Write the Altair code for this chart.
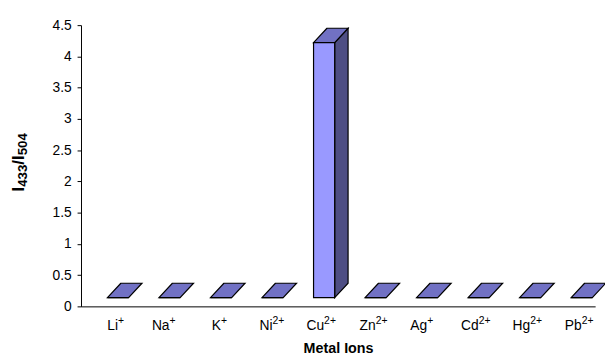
import altair as alt
import pandas as pd

ion_names = ["Li", "Na", "K", "Ni", "Cu", "Zn", "Ag", "Cd", "Hg", "Pb"]
charges = ["+", "+", "+", "2+", "2+", "2+", "+", "2+", "2+", "2+"]
ratio = [0.14, 0.14, 0.14, 0.14, 4.22, 0.14, 0.14, 0.14, 0.14, 0.14]
y_ticks = [0, 0.5, 1, 1.5, 2, 2.5, 3, 3.5, 4, 4.5]
# y-axis title pieces: text, is_subscript
ytitle_parts = ["I", "433", "/I", "504"]
ytitle_sub = [False, True, False, True]

FLOOR = 0.14   # 3D floor level
HW = 0.205     # half bar width (category units)
DX = 0.26      # depth offset x (category units)
DY = 0.23      # depth offset y (value units)

FRONT = "#9999FF"
TOP = "#7171C4"
SIDE = "#4E4E84"
FONT = "Liberation Sans"

front_rows, top_rows, side_rows, lab_rows = [], [], [], []
for i, (ion, ch, v) in enumerate(zip(ion_names, charges, ratio)):
    front_rows.append({"ion": ion, "x": i - HW, "x2": i + HW, "y": FLOOR, "y2": v})
    top_rows.append({"ion": ion, "y": v, "x": i - HW, "x2": i + HW})
    top_rows.append({"ion": ion, "y": v + DY, "x": i - HW + DX, "x2": i + HW + DX})
    if v > FLOOR:
        side_rows.append({"ion": ion, "x": i + HW, "y": FLOOR, "y2": v})
        side_rows.append({"ion": ion, "x": i + HW + DX, "y": FLOOR + DY, "y2": v + DY})
    lab_rows.append({"x": i, "name": ion, "charge": ch})

front = pd.DataFrame(front_rows)
top = pd.DataFrame(top_rows)
side = pd.DataFrame(side_rows)
labels = pd.DataFrame(lab_rows)

# y-title layout along the rotated direction (Arial Bold advance widths)
MAIN_FS, SUB_FS = 17, 13.5
adv = {"I": 0.278, "/": 0.278, "4": 0.556, "3": 0.556, "5": 0.556, "0": 0.556}
yt_rows = []
pos = 0.0
for txt, sub in zip(ytitle_parts, ytitle_sub):
    fs = SUB_FS if sub else MAIN_FS
    w = sum(adv[c] for c in txt) * fs
    yt_rows.append({"t": txt, "sub": sub, "pos": pos})
    pos += w
total_len = pos
TITLE_CENTER = 162 - 23   # plot coords (px)
TITLE_BASE_X = -58        # plot coords (px)
for r in yt_rows:
    r["py"] = TITLE_CENTER + total_len / 2 - r["pos"]
    r["px"] = TITLE_BASE_X + (3 if r["sub"] else 0)
ytitle = pd.DataFrame(yt_rows)

xscale = alt.Scale(domain=[-0.718, 9.26], nice=False, zero=False)
yscale = alt.Scale(domain=[0, 4.5], nice=False)

xaxis = alt.Axis(values=list(range(len(ion_names))), labels=False, ticks=False,
                 grid=False, domainColor="black", title="Metal Ions",
                 titleFont=FONT, titleFontSize=14.5, titleFontWeight="bold",
                 titleColor="black", titlePadding=36)
yaxis = alt.Axis(values=y_ticks, format=".1~f", tickSize=4, tickColor="black",
                 grid=False, domainColor="black", labelFontSize=14, labelFont=FONT,
                 labelColor="black", labelPadding=6, title=None)

X = alt.X("x:Q", scale=xscale, axis=xaxis)
Y = alt.Y("y:Q", scale=yscale, axis=yaxis)

side_layer = alt.Chart(side).mark_area(fill=SIDE, stroke="black", strokeWidth=1.2,
                                       clip=False).encode(
    x=X, y=Y, y2="y2:Q", detail="ion:N",
)

top_layer = alt.Chart(top).mark_area(fill=TOP, stroke="black", strokeWidth=1.2,
                                     orient="horizontal", clip=False).encode(
    y=Y, x=X, x2="x2:Q", detail="ion:N",
)

front_layer = alt.Chart(front).mark_rect(fill=FRONT, stroke="black", strokeWidth=1.2,
                                         clip=False).encode(
    x=X, x2="x2:Q", y=Y, y2="y2:Q",
)

name_layer = alt.Chart(labels).mark_text(
    align="right", baseline="alphabetic", font=FONT, fontSize=14, color="black",
    clip=False).encode(
    x=alt.X("x:Q", scale=xscale), y=alt.value(309), text="name:N",
)

charge_layer = alt.Chart(labels).mark_text(
    align="left", baseline="alphabetic", font=FONT, fontSize=10.5, color="black",
    clip=False).encode(
    x=alt.X("x:Q", scale=xscale), y=alt.value(303), text="charge:N",
)

ytitle_main = alt.Chart(ytitle[~ytitle["sub"]]).mark_text(
    align="left", baseline="alphabetic", angle=270, font=FONT, fontSize=MAIN_FS,
    fontWeight="bold", color="black", clip=False).encode(
    x=alt.X("px:Q", scale=None), y=alt.Y("py:Q", scale=None), text="t:N",
)
ytitle_subs = alt.Chart(ytitle[ytitle["sub"]]).mark_text(
    align="left", baseline="alphabetic", angle=270, font=FONT, fontSize=SUB_FS,
    fontWeight="bold", color="black", clip=False).encode(
    x=alt.X("px:Q", scale=None), y=alt.Y("py:Q", scale=None), text="t:N",
)

chart = alt.layer(side_layer, top_layer, front_layer, name_layer, charge_layer,
                  ytitle_main, ytitle_subs).properties(
    width=521, height=285,
    autosize=alt.AutoSizeParams(type="none"),
    padding={"left": 74, "top": 15, "right": 10, "bottom": 54},
    background="white",
).configure_view(stroke=None)

chart.save("out.html", embed_options={"renderer": "svg", "actions": False})
